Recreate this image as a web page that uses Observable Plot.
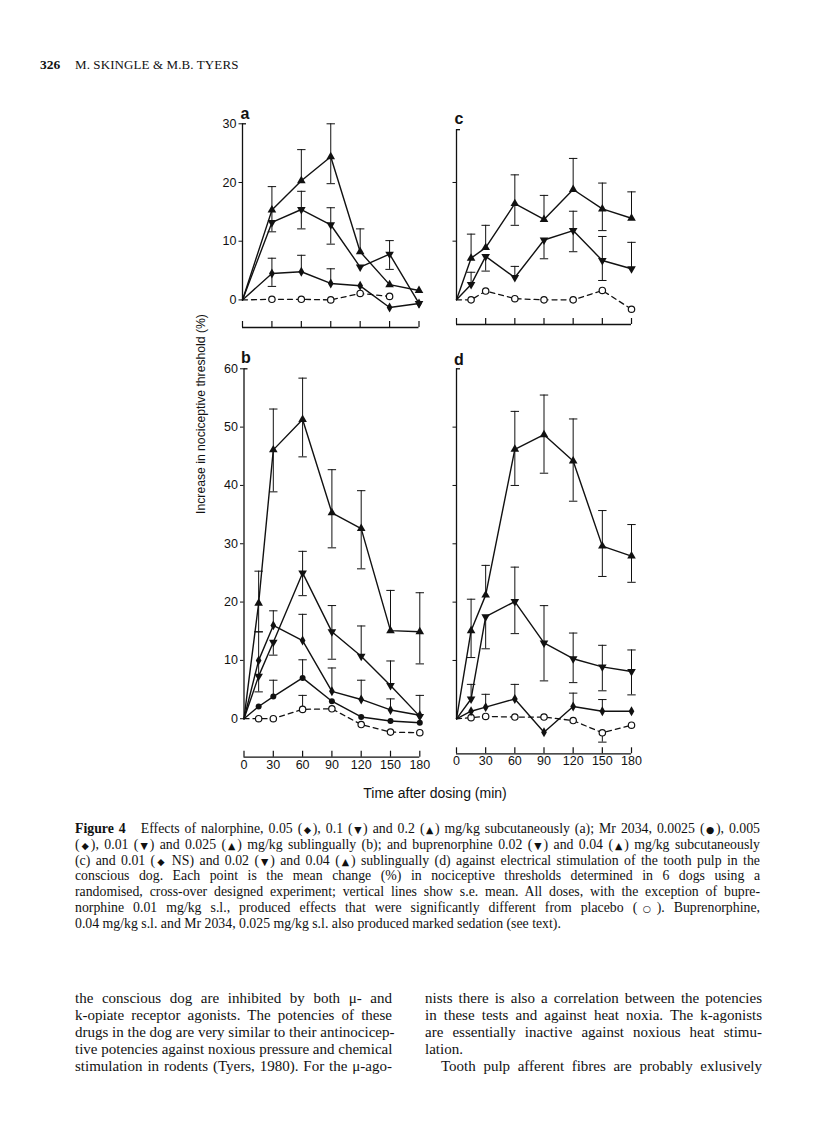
<!DOCTYPE html>
<html><head><meta charset="utf-8">
<script src="https://cdn.jsdelivr.net/npm/d3@7"></script>
<script src="https://cdn.jsdelivr.net/npm/@observablehq/plot@0.6"></script>
<style>
body{margin:0;background:#fff;}
#page{position:relative;width:816px;height:1142px;overflow:hidden;background:#fff;color:#111;font-family:"Liberation Serif","Times New Roman",serif;}
.abs{position:absolute;white-space:nowrap;}
.letter{font-family:"Liberation Sans",Arial,sans-serif;font-weight:bold;font-size:16px;transform:translate(-50%,-50%);}
.sans{font-family:"Liberation Sans",Arial,sans-serif;}
.cap{position:absolute;left:75px;width:685px;font-size:13.8px;line-height:15.8px;height:15.8px;white-space:nowrap;text-align:justify;text-align-last:justify;}
.cap.last{text-align:left;text-align-last:left;}
.body{position:absolute;font-size:15px;line-height:17px;height:17px;white-space:nowrap;text-align:justify;text-align-last:justify;}
.body.last{text-align:left;text-align-last:left;}
.sym{font-family:"DejaVu Sans",sans-serif;font-size:9.5px;}
.panel svg{overflow:visible;}
</style></head>
<body><div id="page"></div>
<script>
// ---------- data ----------
const timesA = [0, 30, 60, 90, 120, 150, 180];
const times = [0, 15, 30, 60, 90, 120, 150, 180];
const xTicks = [0, 30, 60, 90, 120, 150, 180];
const yTicksSmall = [0, 10, 20, 30];
const yTicksLarge = [0, 10, 20, 30, 40, 50, 60];
const yTicksC = [10, 20];
const yTicksD = [10, 20, 30, 40, 50];

// panel a: nalorphine s.c.
const aTri = [0, 15.3, 20.3, 24.4, 8.2, 2.6, 1.6];
const aTriHi = [null, 19.3, 25.6, 30.0, 12.1, null, null];
const aTriLo = [null, 11.6, null, 19.8, null, null, null];
const aInv = [0, 13.2, 15.4, 12.8, 5.6, 7.8, -0.6];
const aInvHi = [null, null, 18.5, 15.7, null, 10.1, null];
const aInvLo = [null, null, 12.1, 9.5, null, 5.2, null];
const aDia = [0, 4.5, 4.8, 2.8, 2.4, -1.3, -0.6];
const aDiaHi = [null, 7.1, 7.6, 5.3, null, null, null];
const aDiaLo = [null, 2.3, null, null, null, null, null];
const aPla = [0, 0.1, 0.1, 0, 1.1, 0.6, null];

// panel b: Mr 2034 s.l.
const bTri = [0, 19.8, 46.1, 51.3, 35.3, 32.6, 15.1, 14.9];
const bTriHi = [null, 25.3, 53.1, 58.4, 42.7, 39.1, 22.0, 21.6];
const bTriLo = [null, 14.9, 38.9, 44.9, 29.3, 25.7, null, 9.4];
const bInv = [0, 7.3, 13.1, 25.0, 14.9, 10.7, 5.7, 0.4];
const bInvHi = [null, null, null, 28.7, 19.4, 15.9, 9.9, null];
const bInvLo = [null, null, 10.9, 21.1, 10.2, null, null, null];
const bDia = [0, 10.0, 16.0, 13.4, 4.7, 3.3, 1.5, 0.6];
const bDiaHi = [null, 14.9, 18.5, 17.9, 8.7, 6.6, 3.4, 4.0];
const bDiaLo = [null, 4.6, null, null, null, null, null, null];
const bDot = [0, 2.1, 3.8, 7.0, 3.0, 0.3, -0.4, -0.7];
const bDotHi = [null, null, 6.6, 10.1, null, null, null, null];
const bPla = [0, 0, 0, 1.6, 1.7, -1.0, -2.3, -2.4];
const bPlaHi = [null, null, null, 4.0, null, null, null, null];

// panel c: buprenorphine s.c.
const cTri = [0, 7.1, 8.9, 16.4, 13.7, 18.8, 15.5, 13.9];
const cTriHi = [null, 11.2, 12.7, 21.3, 17.8, 24.1, 19.9, 18.4];
const cTriLo = [null, null, null, 12.7, null, null, 11.8, null];
const cInv = [0, 2.6, 7.4, 3.8, 10.2, 11.8, 6.7, 5.3];
const cInvHi = [null, 4.7, null, 5.7, null, 15.1, 10.8, 9.8];
const cInvLo = [null, null, 4.9, null, 7.0, 8.2, 3.3, null];
const cPla = [0, 0, 1.5, 0.2, 0, 0, 1.6, -1.6];

// panel d: buprenorphine s.l.
const dTri = [0, 15.1, 21.2, 46.2, 48.7, 44.2, 29.6, 27.9];
const dTriHi = [null, 20.5, 26.3, 52.7, 55.5, 51.4, 35.7, 33.3];
const dTriLo = [null, 10.5, null, 40.0, 42.1, 37.3, 24.4, 23.4];
const dInv = [0, 3.4, 17.5, 20.1, 13.0, 10.3, 8.9, 8.1];
const dInvHi = [null, 5.9, null, 26.0, 19.4, 14.7, 12.6, 11.8];
const dInvLo = [null, null, 12.0, 14.6, 6.5, 6.2, 4.8, 4.1];
const dDia = [0, 1.3, 2.0, 3.4, -2.3, 2.1, 1.3, 1.3];
const dDiaHi = [null, null, 4.2, 5.9, null, 4.4, 3.3, null];
const dPla = [0, 0.2, 0.4, 0.3, 0.3, -0.3, -2.4, -1.1];
const dPlaLo = [null, null, null, null, null, null, -4.0, null];

// ---------- symbols ----------
const S3 = Math.sqrt(3);
const triDown = {draw(ctx, size) {
  const y = -Math.sqrt(size / (S3 * 3));
  ctx.moveTo(0, -2 * y); ctx.lineTo(-S3 * y, y); ctx.lineTo(S3 * y, y); ctx.closePath();
}};
const capSym = {draw(ctx) { ctx.moveTo(-4.2, 0); ctx.lineTo(4.2, 0); }};

function ser(t, v, hi, lo, symbol, open) {
  return {t, v, hi: hi || [], lo: lo || [], symbol, open: !!open};
}

const page = document.getElementById("page");

function makePanel(cfg) {
  const rows = [], errs = [], caps = [];
  cfg.series.forEach((s, si) => {
    s.t.forEach((t, i) => {
      const v = s.v[i];
      if (v == null) return;
      rows.push({t, v, s: si, open: s.open, symbol: s.symbol, first: i === 0});
      const hi = s.hi[i], lo = s.lo[i];
      if (hi != null || lo != null) {
        errs.push({t, y1: lo != null ? lo : v, y2: hi != null ? hi : v});
        if (hi != null) caps.push({t, y: hi});
        if (lo != null) caps.push({t, y: lo});
      }
    });
  });
  const frameW = cfg.width - cfg.mL - cfg.mR;
  const frameH = cfg.height - cfg.mT - cfg.mB;
  const marks = [
    Plot.ruleX([0], {y1: 0, y2: cfg.yTop, stroke: "#111", strokeWidth: 1.3}),
    Plot.ruleY([cfg.yTop], {stroke: "#111", strokeWidth: 1.3, insetRight: frameW - 4}),
    Plot.ruleY([cfg.yMin], {stroke: "#111", strokeWidth: 1.3}),
    Plot.ruleX(xTicks, {stroke: "#111", strokeWidth: 1.2, insetTop: frameH - 6}),
    Plot.ruleX(errs, {x: "t", y1: "y1", y2: "y2", stroke: "#111", strokeWidth: 1}),
    Plot.dot(caps, {x: "t", y: "y", symbol: capSym, r: 3, fill: "none", stroke: "#111", strokeWidth: 1}),
    Plot.line(rows.filter(d => !d.open), {x: "t", y: "v", z: "s", stroke: "#111", strokeWidth: 1.4}),
    Plot.line(rows.filter(d => d.open), {x: "t", y: "v", z: "s", stroke: "#111", strokeWidth: 1.3, strokeDasharray: "5,4"}),
  ];
  cfg.series.forEach((s, si) => {
    const pts = rows.filter(d => d.s === si && !d.first);
    if (s.open) marks.push(Plot.dot(pts, {x: "t", y: "v", r: 3.2, fill: "white", stroke: "#111", strokeWidth: 1.2}));
    else if (s.symbol === "circle") marks.push(Plot.dot(pts, {x: "t", y: "v", r: 3, fill: "#111", stroke: "none"}));
    else marks.push(Plot.dot(pts, {x: "t", y: "v", r: s.symbol === "diamond" ? 3 : 3.2, symbol: s.symbol, fill: "#111", stroke: "none"}));
  });
  if (cfg.xLabels) marks.push(Plot.text(xTicks, {x: d => d, frameAnchor: "bottom", dy: 11.5, text: d => String(d), fontSize: 12.5, fill: "#111"}));
  const svg = Plot.plot({
    width: cfg.width, height: cfg.height,
    marginLeft: cfg.mL, marginRight: cfg.mR, marginTop: cfg.mT, marginBottom: cfg.mB,
    style: {background: "transparent", fontFamily: "Liberation Sans, Arial, sans-serif", fontSize: "12.5px", color: "#111", overflow: "visible"},
    x: {domain: [0, 180], axis: null},
    y: {domain: [cfg.yMin, cfg.yDomTop], ticks: cfg.yTicks, tickSize: 3.5, tickPadding: 2.5,
        tickFormat: cfg.yLabels ? (d => String(d)) : (() => ""), label: null},
    marks
  });
  const wrap = document.createElement("div");
  wrap.className = "abs panel";
  wrap.style.left = cfg.left + "px";
  wrap.style.top = cfg.top + "px";
  wrap.appendChild(svg);
  page.appendChild(wrap);
}

// panel a
makePanel({left: 170, top: 100, width: 270, height: 240, mL: 72, mR: 21.5, mT: 23.3, mB: 13,
  yMin: -4.7, yTop: 30, yDomTop: 30, yTicks: yTicksSmall, yLabels: true, xLabels: false,
  series: [
    ser(timesA, aPla, null, null, "circle", true),
    ser(timesA, aDia, aDiaHi, aDiaLo, "diamond"),
    ser(timesA, aInv, aInvHi, aInvLo, triDown),
    ser(timesA, aTri, aTriHi, aTriLo, "triangle"),
  ]});
// panel c
makePanel({left: 430, top: 100, width: 230, height: 240, mL: 26, mR: 29, mT: 23.3, mB: 16,
  yMin: -4.2, yTop: 29, yDomTop: 30, yTicks: yTicksC, yLabels: false, xLabels: false,
  series: [
    ser(times, cPla, null, null, "circle", true),
    ser(times, cInv, cInvHi, cInvLo, triDown),
    ser(times, cTri, cTriHi, cTriLo, "triangle"),
  ]});
// panel b
makePanel({left: 170, top: 350, width: 270, height: 460, mL: 73.5, mR: 20.7, mT: 18.3, mB: 53.3,
  yMin: -6.6, yTop: 60, yDomTop: 60, yTicks: yTicksLarge, yLabels: true, xLabels: true,
  series: [
    ser(times, bPla, bPlaHi, null, "circle", true),
    ser(times, bDot, bDotHi, null, "circle"),
    ser(times, bDia, bDiaHi, bDiaLo, "diamond"),
    ser(times, bInv, bInvHi, bInvLo, triDown),
    ser(times, bTri, bTriHi, bTriLo, "triangle"),
  ]});
// panel d
makePanel({left: 430, top: 350, width: 230, height: 460, mL: 26, mR: 29, mT: 18.3, mB: 56.7,
  yMin: -6.0, yTop: 60, yDomTop: 60, yTicks: yTicksD, yLabels: false, xLabels: true,
  series: [
    ser(times, dPla, null, dPlaLo, "circle", true),
    ser(times, dDia, dDiaHi, null, "diamond"),
    ser(times, dInv, dInvHi, dInvLo, triDown),
    ser(times, dTri, dTriHi, dTriLo, "triangle"),
  ]});

// ---------- texts ----------
function addHTML(html) { page.insertAdjacentHTML("beforeend", html); }
addHTML(`<div class="abs" style="left:40px;top:57px;font-size:13.5px;font-weight:bold;">326</div>`);
addHTML(`<div class="abs" style="left:75px;top:57px;font-size:13px;letter-spacing:0.1px;">M. SKINGLE &amp; M.B. TYERS</div>`);
addHTML(`<div class="abs letter" style="left:245px;top:114px;">a</div>`);
addHTML(`<div class="abs letter" style="left:246px;top:358px;">b</div>`);
addHTML(`<div class="abs letter" style="left:459px;top:119px;">c</div>`);
addHTML(`<div class="abs letter" style="left:459px;top:360px;">d</div>`);
addHTML(`<div class="abs sans" style="left:201px;top:414px;font-size:12.2px;transform:translate(-50%,-50%) rotate(-90deg);">Increase in nociceptive threshold (%)</div>`);
addHTML(`<div class="abs sans" style="left:435px;top:793px;font-size:14px;transform:translate(-50%,-50%);">Time after dosing (min)</div>`);

const sym = c => `<span class="sym">${c}</span>`;
const capLines = [
  `<b>Figure 4</b>&nbsp;&nbsp; Effects of nalorphine, 0.05 (${sym("◆")}), 0.1 (${sym("▼")}) and 0.2 (${sym("▲")}) mg/kg subcutaneously (a); Mr 2034, 0.0025 (${sym("●")}), 0.005`,
  `(${sym("◆")}), 0.01 (${sym("▼")}) and 0.025 (${sym("▲")}) mg/kg sublingually (b); and buprenorphine 0.02 (${sym("▼")}) and 0.04 (${sym("▲")}) mg/kg subcutaneously`,
  `(c) and 0.01 (${sym("◆")} NS) and 0.02 (${sym("▼")}) and 0.04 (${sym("▲")}) sublingually (d) against electrical stimulation of the tooth pulp in the`,
  `conscious dog. Each point is the mean change (%) in nociceptive thresholds determined in 6 dogs using a`,
  `randomised, cross-over designed experiment; vertical lines show s.e. mean. All doses, with the exception of bupre-`,
  `norphine 0.01 mg/kg s.l., produced effects that were significantly different from placebo (${sym("○")}). Buprenorphine,`,
  `0.04 mg/kg s.l. and Mr 2034, 0.025 mg/kg s.l. also produced marked sedation (see text).`
];
capLines.forEach((l, i) => {
  addHTML(`<div class="cap${i === capLines.length - 1 ? " last" : ""}" style="top:${821 + i * 15.8}px;">${l}</div>`);
});

const leftCol = [
  "the conscious dog are inhibited by both μ- and",
  "k-opiate receptor agonists. The potencies of these",
  "drugs in the dog are very similar to their antinocicep-",
  "tive potencies against noxious pressure and chemical",
  "stimulation in rodents (Tyers, 1980). For the μ-ago-"
];
const rightCol = [
  "nists there is also a correlation between the potencies",
  "in these tests and against heat noxia. The k-agonists",
  "are essentially inactive against noxious heat stimu-",
  "lation.",
  "Tooth pulp afferent fibres are probably exlusively"
];
leftCol.forEach((l, i) => addHTML(`<div class="body" style="left:75px;width:317px;top:${989.5 + i * 17}px;">${l}</div>`));
rightCol.forEach((l, i) => {
  const last = i === 3;
  const indent = i === 4 ? 16 : 0;
  addHTML(`<div class="body${last ? " last" : ""}" style="left:${425 + indent}px;width:${337 - indent}px;top:${989.5 + i * 17}px;">${l}</div>`);
});
</script>
</body></html>
